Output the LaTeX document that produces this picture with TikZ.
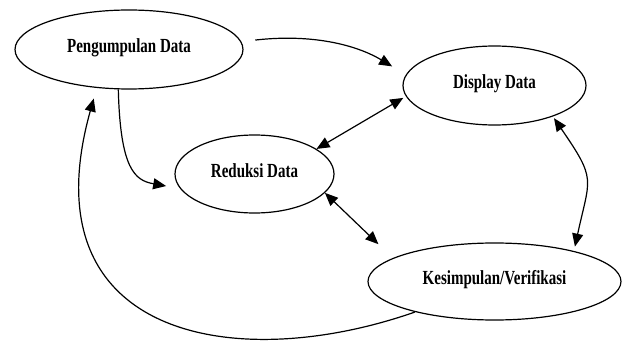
\documentclass[tikz,border=0pt]{standalone}
\usepackage{fontspec}
\setmainfont{Liberation Serif}[FakeStretch=0.75]
\usetikzlibrary{shapes.geometric, arrows.meta}
\tikzstyle{stage} = [ellipse, draw, line width=1.2pt, inner sep=0pt, text height=13pt, text depth=7pt, font=\bfseries\fontsize{20}{24}\selectfont]
\tikzstyle{arrow} = [line width=1.2pt, -{Triangle[length=13pt,width=11pt]}]
\tikzstyle{arrows2} = [line width=1.2pt, {Triangle[length=13pt,width=11pt]}-{Triangle[length=13pt,width=11pt]}]

\begin{document}
\begin{tikzpicture}[x=1pt, y=-1pt]
    \useasboundingbox (0,0) rectangle (630,345);
    \node [stage, minimum width=228pt, minimum height=79pt] at (129,49.5) (kumpul) {Pengumpulan Data};
    \node [stage, minimum width=183pt, minimum height=79pt] at (494.5,85.5) (display) {Display Data};
    \node [stage, minimum width=159pt, minimum height=78pt] at (254.5,174) (reduksi) {Reduksi Data};
    \node [stage, minimum width=253pt, minimum height=77pt] at (494.5,281.5) (simpul) {Kesimpulan/Verifikasi};
    \draw [arrow, shorten <=14pt, shorten >=16pt] (kumpul.4) .. controls +(70,-8) and +(-50,-30) .. (display.173);
    \draw [arrow, shorten >=14pt] (kumpul.255) .. controls +(2,80) and +(-45,-8) .. (reduksi.191);
    \draw [arrows2, shorten <=3pt] (display.187) -- (reduksi.22);
    \draw [arrows2, shorten >=20pt] (reduksi.-15) -- (simpul.167);
    \draw [arrows2, shorten <=2pt, shorten >=4.5pt] (display.-28) .. controls +(44,64) and +(16,-74) .. (simpul.21);
    \draw [arrow, shorten >=11pt] (simpul.201) .. controls +(-180,63) and +(-70,250) .. (kumpul.230);
\end{tikzpicture}
\end{document}
